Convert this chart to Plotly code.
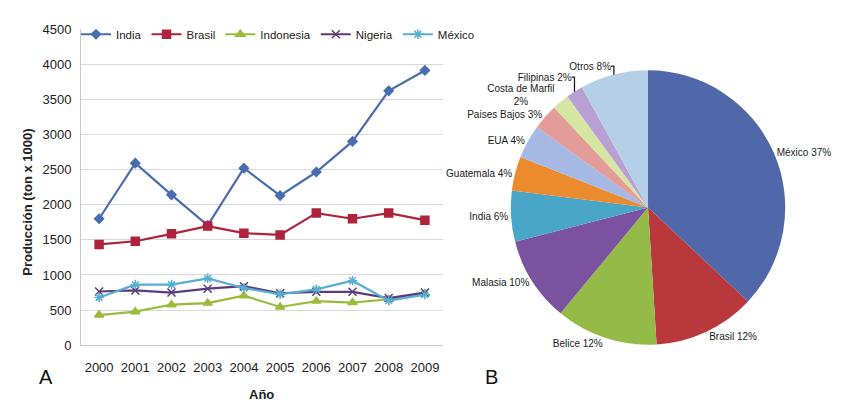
import plotly.graph_objects as go

W, H = 843, 404

years = ["2000", "2001", "2002", "2003", "2004", "2005", "2006", "2007", "2008", "2009"]
india = [1800, 2590, 2140, 1705, 2520, 2130, 2465, 2900, 3620, 3910]
brasil = [1435, 1480, 1585, 1695, 1595, 1570, 1880, 1800, 1880, 1780]
indonesia = [430, 478, 578, 600, 705, 545, 628, 608, 655, 735]
nigeria = [765, 780, 750, 805, 840, 740, 760, 760, 672, 750]
mexico_line = [680, 862, 862, 952, 815, 725, 795, 918, 635, 720]

series_names = ["India", "Brasil", "Indonesia", "Nigeria", "México"]
y_ticks = [0, 500, 1000, 1500, 2000, 2500, 3000, 3500, 4000, 4500]

pie_labels = ["México", "Brasil", "Belice", "Malasia", "India", "Guatemala",
              "EUA", "Paises Bajos", "Costa de Marfil", "Filipinas", "Otros"]
pie_values = [37, 12, 12, 10, 6, 4, 4, 3, 2, 2, 8]
pie_text = ["México 37%", "Brasil 12%", "Belice 12%", "Malasia 10%", "India 6%",
            "Guatemala 4%", "EUA 4%", "Paises Bajos 3%", "Costa de Marfil<br>2%",
            "Filipinas 2%", "Otros 8%"]

FONT = "Liberation Sans, Arial, sans-serif"

line_colors = ["#4a6db0", "#b0233c", "#9bbb3f", "#5b3b7c", "#56aed0"]
symbols = ["diamond", "square", "triangle-up", "x-thin", "asterisk"]
pie_colors = ["#5068aa", "#b8383b", "#94bb48", "#7b52a0", "#4aa6c6", "#ec8a2e",
              "#a6b8e4", "#e49c98", "#d5e6a2", "#b8a0d4", "#b5d0e6"]

fig = go.Figure()
for name, vals, col, sym in zip(series_names, [india, brasil, indonesia, nigeria, mexico_line],
                                line_colors, symbols):
    fig.add_trace(go.Scatter(
        x=years, y=vals, name=name, mode="lines+markers",
        line=dict(color=col, width=2.2),
        marker=dict(symbol=sym, size=8 if sym != "diamond" else 7, color=col,
                    line=dict(color=col, width=1.5)),
        xaxis="x", yaxis="y",
    ))

cx, cy, d = 640, 200, 285
fig.add_trace(go.Pie(
    labels=pie_labels, values=pie_values, text=pie_text,
    textinfo="text", textposition="outside", sort=False, direction="clockwise",
    rotation=0, marker=dict(colors=pie_colors, line=dict(width=0)),
    textfont=dict(family=FONT, size=10, color="#1a1a1a"),
    domain=dict(x=[(cx - d / 2) / W, (cx + d / 2) / W],
                y=[(H - cy - d / 2) / H, (H - cy + d / 2) / H]),
    showlegend=False, hoverinfo="label+percent",
))

fig.update_layout(
    width=W, height=H,
    margin=dict(l=0, r=0, t=0, b=0),
    paper_bgcolor="white", plot_bgcolor="white",
    font=dict(family=FONT, size=13, color="#333333"),
    xaxis=dict(domain=[73 / W, 435 / W], type="category", range=[-0.5, 9.5],
               showgrid=False, showline=True, linecolor="#c8c8c8", ticks="",
               tickfont=dict(size=13, color="#222222"), ticklabelstandoff=10),
    yaxis=dict(domain=[(H - 343) / H, (H - 14.5) / H], range=[0, 4500],
               tickvals=y_ticks, showgrid=True, gridcolor="#d9d9d9", gridwidth=1,
               showline=True, linecolor="#c8c8c8", zeroline=False, ticks="",
               tickfont=dict(size=13, color="#222222"), ticklabelstandoff=6),
    legend=dict(orientation="h", x=68 / W, y=(H - 20) / H, xanchor="left", yanchor="middle",
                bgcolor="rgba(0,0,0,0)", font=dict(size=11.5, color="#222222"),
                itemwidth=30, tracegroupgap=0),
    annotations=[
        dict(text="<b>Producción (ton x 1000)</b>", x=20 / W, y=(H - 195) / H,
             xref="paper", yref="paper", textangle=-90, showarrow=False,
             xanchor="center", yanchor="middle",
             font=dict(size=13, color="#222222")),
        dict(text="<b>Año</b>", x=254 / W, y=(H - 394) / H, xref="paper", yref="paper",
             xanchor="center", yanchor="middle",
             showarrow=False, font=dict(size=13, color="#222222")),
        dict(text="A", x=38 / W, y=(H - 376) / H, xref="paper", yref="paper",
             xanchor="center", yanchor="middle",
             showarrow=False, font=dict(size=20, color="#111111")),
        dict(text="B", x=483 / W, y=(H - 376) / H, xref="paper", yref="paper",
             xanchor="center", yanchor="middle",
             showarrow=False, font=dict(size=20, color="#111111")),
    ],
)

fig.write_html("out.html")
